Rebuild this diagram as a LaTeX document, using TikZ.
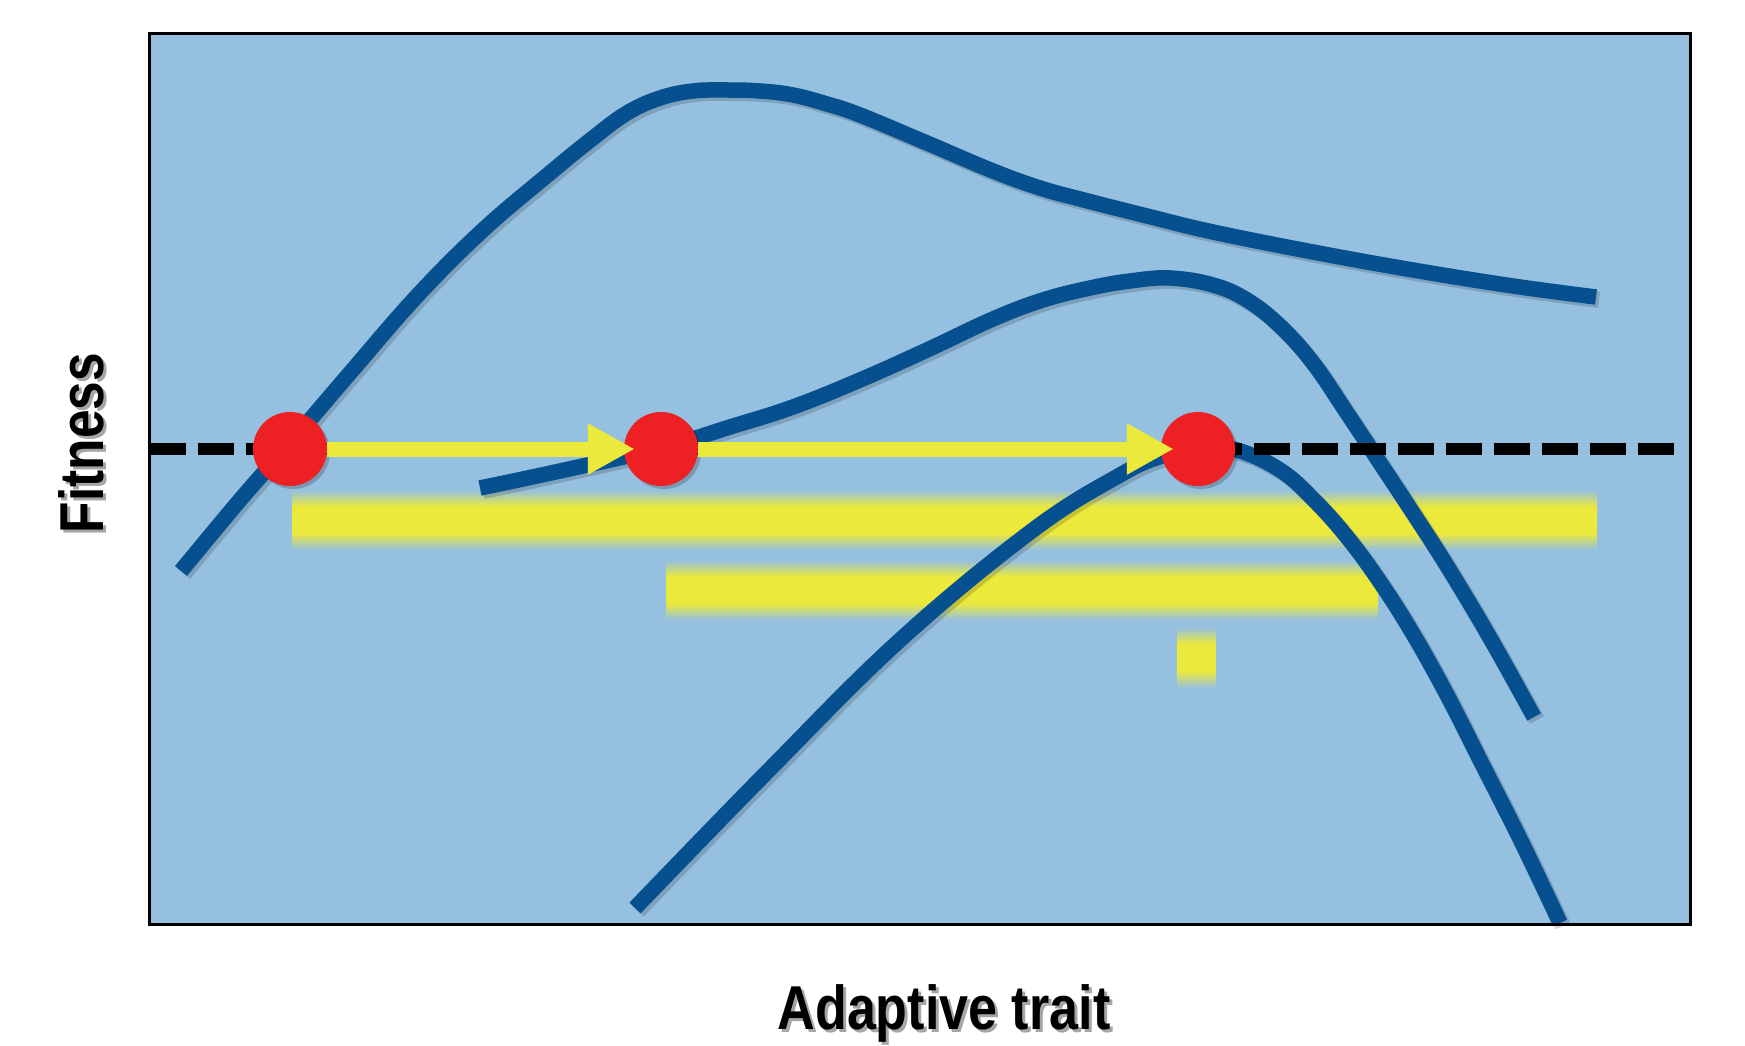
\documentclass[tikz,border=0pt]{standalone}
\usepackage{fontspec}
\setmainfont{Liberation Sans}
\usetikzlibrary{arrows.meta}
\definecolor{bgblue}{RGB}{150,192,224}
\definecolor{curveblue}{RGB}{7,80,143}
\definecolor{dotred}{RGB}{237,32,36}
\definecolor{ylw}{RGB}{235,233,60}
\pgfdeclareverticalshading{ybar}{100bp}{color(0bp)=(bgblue); color(25bp)=(bgblue); color(39bp)=(ylw); color(61bp)=(ylw); color(75bp)=(bgblue); color(100bp)=(bgblue)}
\begin{document}
\begin{tikzpicture}[x=1pt,y=-1pt,
  curve/.style={draw=curveblue,line width=15.5pt},
  cshadow/.style={draw=black,opacity=0.16,line width=16pt},
  dot/.style={circle,fill=dotred,minimum size=74pt,inner sep=0pt},
  yarrow/.style={draw=ylw,line width=15pt,-{Triangle[length=47pt,width=48pt]}},
  dashedline/.style={draw=black,line width=12.5pt,dash pattern=on 36pt off 12pt},
  lbl/.style={font=\bfseries\fontsize{62}{62}\selectfont,inner sep=0pt},
  lblshadow/.style={lbl,text=black,opacity=0.35},
]
\def\curveA{(181,571) (240,500) (290,443) (350,373) (417,296) (483,230) (550,173) (593,138) (627,113) (660,98) (693,91) (727,90) (760,91) (793,95) (827,104) (860,115) (927,143) (993,171) (1040,188) (1080,199) (1147,216) (1213,232) (1313,252) (1413,270) (1513,286) (1596,297)}
\def\curveB{(480,488) (560,471) (661,448) (730,427) (793,407) (860,380) (927,350) (993,319) (1043,300) (1090,288) (1130,281) (1170,278) (1213,285) (1247,300) (1280,326) (1313,363) (1347,413) (1380,463) (1413,513) (1447,566) (1490,638) (1534,717)}
\def\curveC{(635,908) (767,772) (900,640) (1033,530) (1120,475) (1162,456) (1200,447) (1237,450) (1280,470) (1313,499) (1347,537) (1380,582) (1413,634) (1447,695) (1480,760) (1522,843) (1560,923)}
\useasboundingbox (0,0) rectangle (1745,1046);
\fill[white] (0,0) rectangle (1745,1046);
% plot area
\fill[bgblue] (149,34) rectangle (1690,924);
% blurred yellow bars
\shade[shading=ybar] (292,490) rectangle (1597,550);
\shade[shading=ybar] (666,560) rectangle (1378,620);
\shade[shading=ybar] (1177,627) rectangle (1216,688);
% curve shadows
\begin{scope}[shift={(3,3)}]
\draw[cshadow] plot[smooth,tension=0.65] coordinates {\curveA};
\draw[cshadow] plot[smooth,tension=0.65] coordinates {\curveB};
\draw[cshadow] plot[smooth,tension=0.65] coordinates {\curveC};
\end{scope}
% curves
\draw[curve] plot[smooth,tension=0.65] coordinates {\curveA};
\draw[curve] plot[smooth,tension=0.65] coordinates {\curveB};
\draw[curve] plot[smooth,tension=0.65] coordinates {\curveC};
% dashed threshold
\coordinate (dl) at (150,449);
\coordinate (dr) at (1676,449);
\draw[dashedline] (dl) -- (dr);
% dots
\foreach \x in {290,661,1198}{\fill[black,opacity=0.2] (\x+3,452) circle (37);}
\node[dot] (d1) at (290,449) {};
\node[dot] (d2) at (661,449) {};
\node[dot] (d3) at (1198,449) {};
% arrows
\draw[yarrow,shorten >=-11pt] (d1.east) -- (d2);
\draw[yarrow,shorten >=-13pt] (d2.east) -- (d3);
% frame
\draw[line width=3pt] (149,34) rectangle (1690,924);
% labels
\node[lblshadow,anchor=base] (xls) at (947,1032) {\scalebox{0.84}[1]{Adaptive trait}};
\node[lbl,anchor=base] (xl) at (944,1029) {\scalebox{0.84}[1]{Adaptive trait}};
\node[lblshadow,anchor=base,rotate=90] (yls) at (106,446) {\scalebox{0.83}[1]{Fitness}};
\node[lbl,anchor=base,rotate=90] (yl) at (103,443) {\scalebox{0.83}[1]{Fitness}};
\end{tikzpicture}
\end{document}
